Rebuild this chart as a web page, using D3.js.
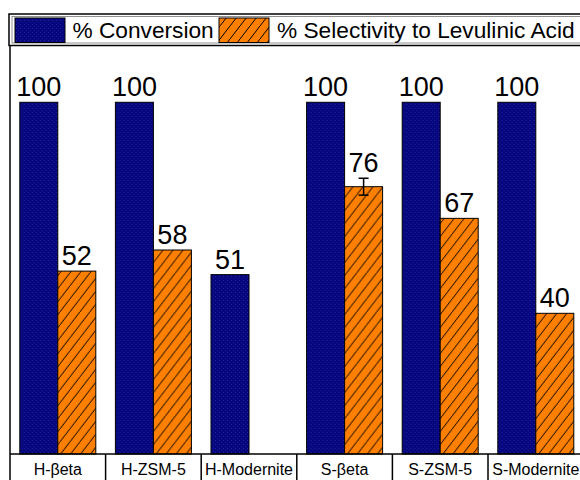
<!DOCTYPE html>
<html>
<head>
<meta charset="utf-8">
<script src="https://cdn.jsdelivr.net/npm/d3@7"></script>
<style>
  html, body { margin: 0; padding: 0; background: #fff; }
  svg { display: block; font-family: "Liberation Sans", Arial, sans-serif; }
</style>
</head>
<body>
<svg id="chart" width="580" height="480"></svg>
<script>
// Catalysts and measured results
const categories = ["H-βeta", "H-ZSM-5", "H-Modernite", "S-βeta", "S-ZSM-5", "S-Modernite"];
const conversion = [100, 100, 51, 100, 100, 100];
const selectivity = [52, 58, null, 76, 67, 40];
const selectivityErr = [null, null, null, 2.4, null, null];
const seriesNames = ["% Conversion", "% Selectivity to Levulinic Acid"];

const svg = d3.select("#chart");
const W = 580, H = 480;
const plotLeft = 10, plotRight = 583.6, plotTop = 46, plotBottom = 454;

// Fill patterns: dotted navy and hatched orange
const defs = svg.append("defs");
const dots = defs.append("pattern").attr("id", "navyDots")
  .attr("patternUnits", "userSpaceOnUse").attr("width", 4).attr("height", 4);
dots.append("rect").attr("width", 4).attr("height", 4).attr("fill", "#06067e");
dots.append("rect").attr("x", 0).attr("y", 0).attr("width", 1).attr("height", 1).attr("fill", "#22229a");
dots.append("rect").attr("x", 2).attr("y", 2).attr("width", 1).attr("height", 1).attr("fill", "#18188f");

const hatch = defs.append("pattern").attr("id", "orangeHatch")
  .attr("patternUnits", "userSpaceOnUse").attr("width", 10).attr("height", 13);
hatch.append("rect").attr("width", 10).attr("height", 13).attr("fill", "#ff8000");
hatch.append("line").attr("x1", -1).attr("y1", 14.3).attr("x2", 11).attr("y2", -1.3)
  .attr("stroke", "#000").attr("stroke-width", 1);

const fills = ["url(#navyDots)", "url(#orangeHatch)"];

// Scales
const x0 = d3.scaleBand().domain(categories).range([plotLeft, plotRight])
  .paddingInner(0.205).paddingOuter(0.1025);
const x1 = d3.scaleBand().domain([0, 1]).range([0, x0.bandwidth()]).padding(0);
const cells = d3.scaleBand().domain(categories).range([plotLeft, plotRight]).padding(0);
const y = d3.scaleLinear().domain([0, 116]).range([plotBottom, plotTop]);

// Bars
const rows = categories.map((c, i) => ({
  cat: c,
  values: [
    { s: 0, v: conversion[i], err: null },
    { s: 1, v: selectivity[i], err: selectivityErr[i] }
  ].filter(d => d.v !== null)
}));

const groups = svg.append("g").selectAll("g").data(rows).join("g")
  .attr("transform", d => `translate(${x0(d.cat)},0)`);

groups.selectAll("rect").data(d => d.values).join("rect")
  .attr("x", d => x1(d.s))
  .attr("y", d => y(d.v))
  .attr("width", x1.bandwidth())
  .attr("height", d => y(0) - y(d.v))
  .attr("fill", d => fills[d.s])
  .attr("stroke", "#000").attr("stroke-width", 1);

// Error bars
groups.selectAll("g.err").data(d => d.values.filter(v => v.err)).join("g")
  .attr("class", "err")
  .each(function (d) {
    const g = d3.select(this);
    const cx = x1(d.s) + x1.bandwidth() / 2;
    g.append("line").attr("x1", cx).attr("x2", cx)
      .attr("y1", y(d.v + d.err)).attr("y2", y(d.v - d.err))
      .attr("stroke", "#000").attr("stroke-width", 1.5);
    [d.v + d.err, d.v - d.err].forEach(val => {
      g.append("line").attr("x1", cx - 5).attr("x2", cx + 5)
        .attr("y1", y(val)).attr("y2", y(val))
        .attr("stroke", "#000").attr("stroke-width", 1.5);
    });
  });

// Value labels
groups.selectAll("text.val").data(d => d.values).join("text")
  .attr("class", "val")
  .attr("x", d => x1(d.s) + x1.bandwidth() / 2)
  .attr("y", d => y(d.v + (d.err || 0)) - 6)
  .attr("text-anchor", "middle")
  .attr("font-size", 27)
  .attr("fill", "#000")
  .text(d => d.v);

// Frame: left axis line and baseline
svg.append("line").attr("x1", plotLeft).attr("x2", plotLeft)
  .attr("y1", plotTop).attr("y2", H)
  .attr("stroke", "#000").attr("stroke-width", 1.5);
svg.append("line").attr("x1", plotLeft).attr("x2", W)
  .attr("y1", plotBottom).attr("y2", plotBottom)
  .attr("stroke", "#000").attr("stroke-width", 1.5);

// Category label cells
svg.append("g").selectAll("line").data(categories.slice(1)).join("line")
  .attr("x1", d => cells(d)).attr("x2", d => cells(d))
  .attr("y1", plotBottom).attr("y2", H)
  .attr("stroke", "#000").attr("stroke-width", 1.5);
svg.append("g").selectAll("text").data(categories).join("text")
  .attr("x", d => cells(d) + cells.bandwidth() / 2)
  .attr("y", 475)
  .attr("text-anchor", "middle")
  .attr("font-size", 16)
  .attr("fill", "#000")
  .text(d => d);

// Legend
const lg = svg.append("g");
lg.append("rect").attr("x", 9).attr("y", 14).attr("width", 600).attr("height", 31.5)
  .attr("fill", "#fff").attr("stroke", "#000").attr("stroke-width", 1.5);
lg.append("rect").attr("x", 12).attr("y", 16.5).attr("width", 600).attr("height", 26.5)
  .attr("fill", "none").attr("stroke", "#777").attr("stroke-width", 0.8);
const legendItems = [
  { sw: 15, tx: 72.5, name: seriesNames[0], fill: fills[0] },
  { sw: 219, tx: 277, name: seriesNames[1], fill: fills[1] }
];
legendItems.forEach(it => {
  lg.append("rect").attr("x", it.sw).attr("y", 18).attr("width", 50).attr("height", 24.5)
    .attr("fill", it.fill).attr("stroke", "#000").attr("stroke-width", 1);
  lg.append("text").attr("x", it.tx).attr("y", 37.5)
    .attr("font-size", 22.7).attr("fill", "#000").text(it.name);
});
</script>
</body>
</html>
